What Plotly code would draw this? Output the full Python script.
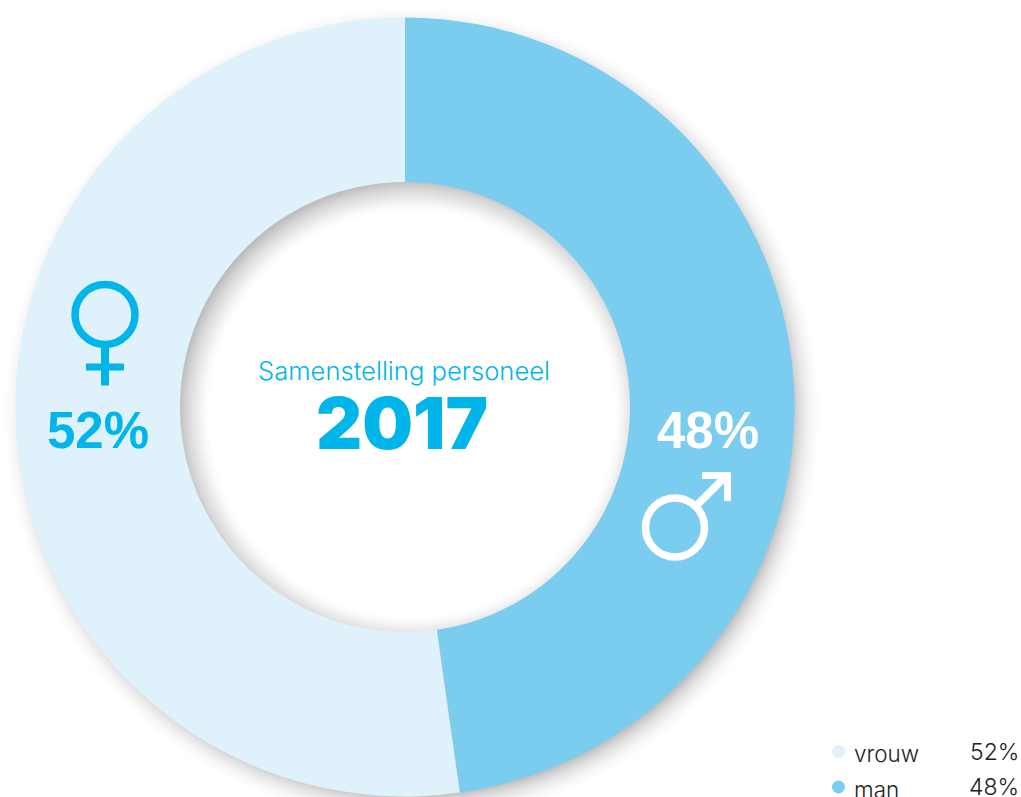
import plotly.graph_objects as go

# data
categories = ["man", "vrouw"]
values = [47.75, 52.25]
legend_order = ["vrouw", "man"]
legend_values = [52, 48]
title_text = "Samenstelling personeel"
year_text = "2017"

W, H = 1021, 797
MAN, VROUW, ACCENT = "#7BCDF0", "#DFF1FB", "#00B5E9"
CX, CY, R_OUT, R_IN = 405, 407, 389.5, 225
colour_of = {"man": MAN, "vrouw": VROUW}


def circle(cx, cy, r, **kw):
    return dict(type="circle", xref="x", yref="y", x0=cx - r, x1=cx + r,
                y0=cy - r, y1=cy + r, **kw)


shapes = []
# soft outer shadow, lower right
n = 34
prev = 0.0
for i in range(1, n + 1):
    d = 0.24 * (i / n) ** 2
    a = 1 - (1 - d) / (1 - prev)
    prev = d
    shapes.append(circle(CX + 7, CY + 8, R_OUT + 24 - i, fillcolor=f"rgba(0,0,0,{a:.4f})",
                         line_width=0, layer="below"))
# inner shadow seen through the hole: grey disc, lightened towards the lower right
shapes.append(circle(CX, CY, R_IN + 3, fillcolor="#B4B4B4", line_width=0, layer="below"))
n = 34
prev = 1.0
for i in range(1, n):
    g = (1 - i / n) ** 1.7
    a = 1 - g / prev
    prev = g
    shapes.append(circle(CX + 7, CY + 7, R_IN + 12 - i, fillcolor=f"rgba(255,255,255,{a:.4f})",
                         line_width=0, layer="below"))
shapes.append(circle(CX + 7, CY + 7, R_IN + 12 - n, fillcolor="#FFFFFF", line_width=0, layer="below"))

# venus symbol
shapes += [
    circle(105, 314.5, 30, line=dict(color=ACCENT, width=7.5), fillcolor="rgba(0,0,0,0)"),
    dict(type="rect", xref="x", yref="y", x0=101, x1=109, y0=347, y1=385.5, fillcolor=ACCENT, line_width=0),
    dict(type="rect", xref="x", yref="y", x0=86, x1=124, y0=363.5, y1=370.5, fillcolor=ACCENT, line_width=0),
]
# mars symbol
shapes += [
    circle(675, 527.5, 29.5, line=dict(color="white", width=7.5), fillcolor="rgba(0,0,0,0)"),
    dict(type="line", xref="x", yref="y", x0=697, y0=505, x1=727, y1=475, line=dict(color="white", width=7.5)),
    dict(type="path", xref="x", yref="y", path="M702,472 L731,472 L731,501 L724,501 L724,479 L702,479 Z",
         fillcolor="white", line_width=0),
]

fig = go.Figure()
fig.add_trace(go.Pie(labels=categories, values=values, hole=R_IN / R_OUT, sort=False,
                     direction="clockwise", rotation=0, textinfo="none", hoverinfo="label+percent",
                     marker=dict(colors=[colour_of[c] for c in categories], line=dict(width=0)),
                     domain=dict(x=[(CX - R_OUT) / W, (CX + R_OUT) / W],
                                 y=[(H - CY - R_OUT) / H, (H - CY + R_OUT) / H]),
                     showlegend=False))

legend_x, legend_y = 838.5, [751.5, 787]
fig.add_trace(go.Scatter(x=[legend_x] * 2, y=legend_y, mode="markers", showlegend=False, hoverinfo="skip",
                         marker=dict(size=13, color=[colour_of[c] for c in legend_order], line_width=0)))


def note(x, y, text, size, color, family="Liberation Sans", weight=400, anchor="center"):
    return dict(x=x, y=y, xref="x", yref="y", text=text, showarrow=False, xanchor=anchor, yanchor="middle",
                font=dict(family=family, size=size, color=color, weight=weight))


annotations = [
    note(403.5, 370, title_text, 25.6, ACCENT, "Inter", 300),
    note(402, 423, year_text, 71.5, ACCENT, "Inter", 900),
    note(98, 430, f"{legend_values[0]}%", 51, ACCENT, "Liberation Sans", 700),
    note(708, 430, f"{legend_values[1]}%", 51, "white", "Liberation Sans", 700),
]
for name, val, y in zip(legend_order, legend_values, legend_y):
    annotations.append(note(851.5, y + 2, name, 22.5, "#222222", "Inter", 300, "left"))
    annotations.append(note(1021, y, f"{val}%", 23, "#222222", "Inter", 300, "right"))

fig.update_layout(
    width=W, height=H, margin=dict(l=0, r=0, t=0, b=0),
    paper_bgcolor="white", plot_bgcolor="rgba(0,0,0,0)",
    xaxis=dict(range=[0, W], visible=False, fixedrange=True),
    yaxis=dict(range=[H, 0], visible=False, fixedrange=True),
    shapes=shapes, annotations=annotations,
)
fig.write_html("out.html", config=dict(displayModeBar=False),
               post_script="document.body.style.margin='0';document.body.style.overflow='hidden';")
